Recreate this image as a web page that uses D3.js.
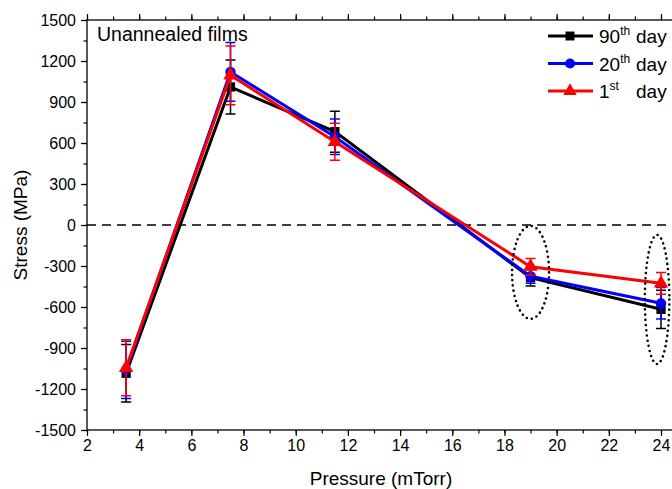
<!doctype html>
<html lang="en">
<head>
  <meta charset="UTF-8">
  <title>Stress vs pressure</title>
  <script src="https://cdn.jsdelivr.net/npm/d3@7/dist/d3.min.js"></script>
  <style>
  body { margin: 0; background: #fff; }
  svg { display: block; font-family: Arial, "Liberation Sans", sans-serif; }
  </style>
</head>
<body>
<script>

// pressure (mTorr) and stress (MPa)
var pressure = [3.5, 7.5, 11.5, 19, 24];

var day90 = [-1085, 1010, 683, -385, -617];
var day90Err = [210, 198, 150, 62, 140];

var day20 = [-1060, 1120, 646, -375, -573];
var day20Err = [210, 215, 130, 52, 115];

var day1 = [-1045, 1095, 609, -305, -427];
var day1Err = [205, 215, 135, 60, 80];

var xTicks = [2, 4, 6, 8, 10, 12, 14, 16, 18, 20, 22, 24];
var yTicks = [-1500, -1200, -900, -600, -300, 0, 300, 600, 900, 1200, 1500];

// dotted ellipses marking the aged points: [x, y, rx, ry] in data units
var rings = [[19, -347, 0.71, 340], [23.85, -545, 0.47, 472]];

var series = [
  { sup: 'th', num: '90', vals: day90, err: day90Err, color: '#000', shape: d3.symbolSquare },
  { sup: 'th', num: '20', vals: day20, err: day20Err, color: '#0000ff', shape: d3.symbolCircle },
  { sup: 'st', num: '1', vals: day1, err: day1Err, color: '#ff0000', shape: d3.symbolTriangle }
];

var w = 672, h = 489;
var plotL = 87, plotT = 20, plotB = 430;

var x = d3.scaleLinear().domain([2, 24]).range([plotL, 661]);
var y = d3.scaleLinear().domain([-1500, 1500]).range([plotB, plotT]);
var plotR = x(24.5);

var svg = d3.select('body').append('svg')
  .attr('width', w)
  .attr('height', h);

// axes (plain hyphen for negatives, like the original)
var plain = function(d) { return String(d); };
var xMinor = d3.range(2, 25, 1);
var yMinor = d3.range(-1500, 1501, 150);

svg.append('g').attr('transform', 'translate(0,' + plotB + ')')
  .call(d3.axisBottom(x).tickValues(xTicks).tickSize(6).tickPadding(4).tickFormat(plain));
svg.append('g').attr('transform', 'translate(0,' + plotT + ')')
  .call(d3.axisTop(x).tickValues(xTicks).tickSize(6).tickFormat(''));
svg.append('g').attr('transform', 'translate(' + plotL + ',0)')
  .call(d3.axisLeft(y).tickValues(yTicks).tickSize(6).tickPadding(5).tickFormat(plain));

svg.append('g').attr('transform', 'translate(0,' + plotB + ')')
  .call(d3.axisBottom(x).tickValues(xMinor).tickSize(3.5).tickFormat(''));
svg.append('g').attr('transform', 'translate(0,' + plotT + ')')
  .call(d3.axisTop(x).tickValues(xMinor).tickSize(3.5).tickFormat(''));
svg.append('g').attr('transform', 'translate(' + plotL + ',0)')
  .call(d3.axisLeft(y).tickValues(yMinor).tickSize(3.5).tickFormat(''));

svg.selectAll('.domain').remove();
svg.selectAll('.tick line').attr('stroke', '#000').attr('stroke-width', 1.2);
svg.selectAll('.tick text').attr('font-size', '16px').attr('fill', '#000')
  .attr('font-family', 'Arial, "Liberation Sans", sans-serif');

// frame
svg.append('rect')
  .attr('x', plotL).attr('y', plotT)
  .attr('width', plotR - plotL).attr('height', plotB - plotT)
  .attr('fill', 'none').attr('stroke', '#000').attr('stroke-width', 1.3);

// zero line
svg.append('line')
  .attr('x1', plotL).attr('x2', plotR)
  .attr('y1', y(0)).attr('y2', y(0))
  .attr('stroke', '#000').attr('stroke-width', 1.6)
  .attr('stroke-dasharray', '9,6');

// axis titles
svg.append('text')
  .text('Pressure (mTorr)')
  .attr('x', 381).attr('y', 485)
  .attr('text-anchor', 'middle')
  .attr('font-size', '19px');

svg.append('text')
  .text('Stress (MPa)')
  .attr('transform', 'translate(27,' + y(0) + ') rotate(-90)')
  .attr('text-anchor', 'middle')
  .attr('font-size', '19px');

svg.append('text')
  .text('Unannealed films')
  .attr('x', 97).attr('y', 41)
  .attr('font-size', '19.5px');

// series
var line = d3.line()
  .x(function(d) { return x(d[0]); })
  .y(function(d) { return y(d[1]); });

series.forEach(function(s) {
  var pts = pressure.map(function(p, i) { return [p, s.vals[i], s.err[i]]; });
  var g = svg.append('g');

  g.append('path')
    .datum(pts)
    .attr('d', line)
    .attr('fill', 'none')
    .attr('stroke', s.color)
    .attr('stroke-width', 3);

  g.selectAll('.bar')
    .data(pts)
    .enter()
    .append('path')
    .attr('d', function(d) {
      var cx = x(d[0]), t = y(d[1] + d[2]), b = y(d[1] - d[2]);
      return 'M' + (cx - 5) + ',' + t + 'H' + (cx + 5) +
             'M' + cx + ',' + t + 'V' + b +
             'M' + (cx - 5) + ',' + b + 'H' + (cx + 5);
    })
    .attr('fill', 'none')
    .attr('stroke', s.color)
    .attr('stroke-width', 1.5);

  g.selectAll('.mark')
    .data(pts)
    .enter()
    .append('path')
    .attr('transform', function(d) { return 'translate(' + x(d[0]) + ',' + y(d[1]) + ')'; })
    .attr('d', d3.symbol().type(s.shape).size(s.shape === d3.symbolTriangle ? 90 : 85))
    .attr('fill', s.color);
});

// dotted ellipses
svg.selectAll('.ring')
  .data(rings)
  .enter()
  .append('ellipse')
  .attr('cx', function(d) { return x(d[0]); })
  .attr('cy', function(d) { return y(d[1]); })
  .attr('rx', function(d) { return x(d[0] + d[2]) - x(d[0]); })
  .attr('ry', function(d) { return y(d[1] - d[3]) - y(d[1]); })
  .attr('fill', 'none')
  .attr('stroke', '#000')
  .attr('stroke-width', 2.6)
  .attr('stroke-linecap', 'round')
  .attr('stroke-dasharray', '0,5.2');

// legend
var legend = svg.append('g');
series.forEach(function(s, i) {
  var ly = 36 + i * 27.5;
  legend.append('line')
    .attr('x1', 548).attr('x2', 593)
    .attr('y1', ly).attr('y2', ly)
    .attr('stroke', s.color).attr('stroke-width', 3);
  legend.append('path')
    .attr('transform', 'translate(570,' + ly + ')')
    .attr('d', d3.symbol().type(s.shape).size(80))
    .attr('fill', s.color);
  var t = legend.append('text')
    .attr('x', 599).attr('y', ly + 7)
    .attr('font-size', '19px');
  t.append('tspan').text(s.num);
  t.append('tspan').text(s.sup).attr('font-size', '12px').attr('dy', -8);
  legend.append('text')
    .text('day')
    .attr('x', 636).attr('y', ly + 7)
    .attr('font-size', '19px');
});

</script>
</body>
</html>
